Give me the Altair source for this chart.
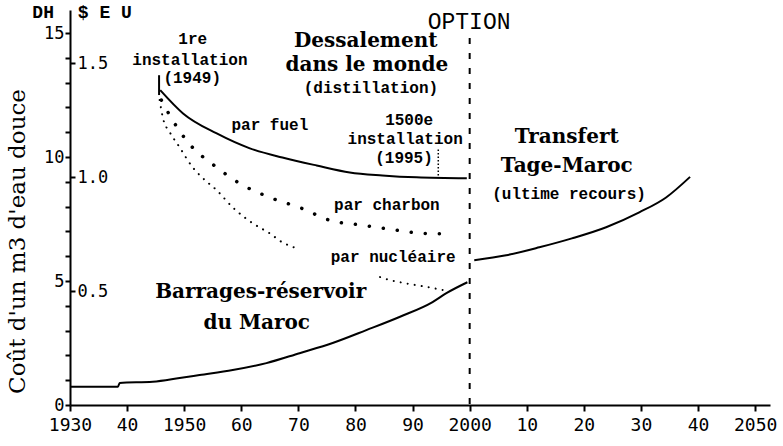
import altair as alt
import pandas as pd

# ---- curve readings: year and cost in DH per m3 ----
fuel_year = [1945.8, 1949.8, 1955.7, 1961.5, 1967.2, 1973.2, 1979.0, 1984.7, 1990.7, 1999.5]
fuel_dh = [12.7, 11.76, 10.95, 10.35, 9.98, 9.66, 9.38, 9.26, 9.18, 9.14]

coal_year = [1946.0, 1947.5, 1950.4, 1955.7, 1959.7, 1965.0, 1970.6, 1975.5, 1981.2, 1987.2, 1991.7, 1996.0]
coal_dh = [12.3, 11.67, 10.67, 9.58, 8.94, 8.37, 7.93, 7.45, 7.25, 7.05, 6.92, 6.9]

nuclear_year_a = [1945.7, 1946.3, 1947.5, 1949.2, 1951.5, 1953.3, 1955.7, 1958.5, 1962.0, 1965.0, 1967.2, 1969.7]
nuclear_dh_a = [12.3, 11.55, 10.99, 10.39, 9.58, 9.14, 8.66, 7.97, 7.33, 6.92, 6.56, 6.32]
nuclear_year_b = [1984.3, 1986.0, 1989.0, 1992.5, 1995.3]
nuclear_dh_b = [5.16, 5.04, 4.9, 4.76, 4.64]

dams_year = [1930, 1938.4, 1938.7, 1944.5, 1949.2, 1952.7, 1958.5, 1964.4, 1970.2, 1976.0, 1981.9, 1987.7, 1993.5, 1996.0, 1999.6]
dams_dh = [0.74, 0.74, 0.89, 0.94, 1.09, 1.21, 1.41, 1.69, 2.09, 2.50, 3.02, 3.55, 4.15, 4.52, 4.95]

transfer_year = [2000.8, 2006.4, 2012.2, 2017.9, 2023.9, 2029.7, 2034.4, 2038.6]
transfer_dh = [5.84, 6.04, 6.36, 6.72, 7.17, 7.77, 8.37, 9.2]

# ---- axes ----
x_tick_values = [1930, 1940, 1950, 1960, 1970, 1980, 1990, 2000, 2010, 2020, 2030, 2040, 2050]
x_tick_labels = ["1930", "40", "1950", "60", "70", "80", "90", "2000", "10", "20", "30", "40", "2050"]
dh_tick_values = list(range(0, 16))
usd_tick_values = [0.5, 1.0, 1.5]
usd_tick_labels = ["0.5", "1.0", "1.5"]

DH_PER_USD = 9.19
X_DOMAIN = [1930, 2052.6]
DH_DOMAIN = [0, 15.93]
USD_DOMAIN = [0, DH_DOMAIN[1] / DH_PER_USD]

# ---- annotations: text, year, cost ----
plain_text = ["1re", "installation", "(1949)", "(distillation)", "par fuel", "1500e",
              "installation", "(1995)", "par charbon", "par nucléaire", "(ultime recours)"]
plain_year = [1951.5, 1951.0, 1951.4, 1982.7, 1965.0, 1989.4, 1988.7, 1988.5, 1985.5, 1986.6, 2017.4]
plain_dh = [14.76, 13.9, 13.19, 12.78, 11.29, 11.49, 10.73, 9.96, 8.06, 5.97, 8.5]

bold_text = ["Dessalement", "dans le monde", "Barrages-réservoir", "du Maroc", "Transfert", "Tage-Maroc"]
bold_year = [1981.8, 1982.0, 1963.4, 1962.7, 2017.0, 2017.0]
bold_dh = [14.68, 13.72, 4.56, 3.31, 10.8, 9.64]

head_text = ["DH", "$ E U"]
head_year = [1925.3, 1936.1]
head_dh = [15.8, 15.8]

option_text = ["OPTION"]
option_year = [1999.9]
option_dh = [15.44]

# vertical markers: year, top, bottom
first_plant = [1945.6, 13.3, 12.5]
plant_1500 = [1994.5, 10.3, 9.2]
option_line = [2000, 14.8, 0]

W, H = 700, 395
TICK_FONT = "DejaVu Sans Mono"


def label_expr(values, labels):
    expr = "''"
    for v, l in reversed(list(zip(values, labels))):
        expr = f"datum.value == {v} ? '{l}' : ({expr})"
    return expr


xs = alt.Scale(domain=X_DOMAIN, nice=False, zero=False)
ys = alt.Scale(domain=DH_DOMAIN, nice=False, zero=False)

x_axis = alt.Axis(
    values=x_tick_values, labelExpr=label_expr(x_tick_values, x_tick_labels),
    grid=False, domainColor="black", domainWidth=2, tickColor="black", tickWidth=2,
    tickSize=6, labelFont=TICK_FONT, labelFontSize=18, labelColor="black",
    labelPadding=5, title=None, labelFlush=False, labelOverlap=False,
)
y_axis = alt.Axis(
    values=dh_tick_values, labelExpr="datum.value % 5 == 0 ? datum.value : ''",
    grid=False, domainColor="black", domainWidth=2, tickColor="black", tickWidth=2,
    tickSize=5, labelFont=TICK_FONT, labelFontSize=17, labelColor="black",
    labelPadding=1, labelOverlap=False, labelFlush=False,
    title="Coût d'un m3 d'eau douce", titleFont="DejaVu Serif", titleFontSize=23,
    titleFontWeight="normal", titleColor="black", titleAngle=270,
    titleX=-53, titleY=231, titleAlign="center", titleBaseline="middle",
)


def xy(yfield="dh"):
    return dict(
        x=alt.X("year:Q", scale=xs, axis=x_axis),
        y=alt.Y(f"{yfield}:Q", scale=ys, axis=y_axis),
    )


def curve(years, values, seg=0):
    return pd.DataFrame({"year": years, "dh": values, "seg": seg})


def line_layer(df, **mark):
    return alt.Chart(df).mark_line(interpolate="monotone", color="black", **mark).encode(
        detail="seg:N", **xy()
    )


fuel = line_layer(curve(fuel_year, fuel_dh), strokeWidth=2)
coal = line_layer(curve(coal_year, coal_dh), strokeWidth=3.5, strokeDash=[0.1, 14], strokeCap="round")
nuclear = line_layer(
    pd.concat([curve(nuclear_year_a, nuclear_dh_a, 0), curve(nuclear_year_b, nuclear_dh_b, 1)]),
    strokeWidth=2, strokeDash=[0.1, 7], strokeCap="round",
)
dams = line_layer(curve(dams_year, dams_dh), strokeWidth=2)
transfer = line_layer(curve(transfer_year, transfer_dh), strokeWidth=2)


def vrule(spec, **mark):
    df = pd.DataFrame({"year": [spec[0]], "dh": [spec[1]], "bottom": [spec[2]]})
    return alt.Chart(df).mark_rule(color="black", **mark).encode(y2="bottom:Q", **xy())


option_rule = vrule(option_line, strokeWidth=2, strokeDash=[6, 9])
first_rule = vrule(first_plant, strokeWidth=2)
rule_1500 = vrule(plant_1500, strokeWidth=1.5, strokeDash=[1.5, 2])


def text_layer(texts, years, values, **mark):
    df = pd.DataFrame({"t": texts, "year": years, "dh": values})
    return alt.Chart(df).mark_text(color="black", align="center", baseline="middle", **mark).encode(
        text="t:N", **xy()
    )


plain = text_layer(plain_text, plain_year, plain_dh, font="Liberation Mono", fontSize=16, fontWeight="bold")
bold = text_layer(bold_text, bold_year, bold_dh, font="DejaVu Serif", fontSize=20, fontWeight="bold")
heads = text_layer(head_text, head_year, head_dh, font="Liberation Mono", fontSize=18, fontWeight="bold")
option_label = text_layer(option_text, option_year, option_dh, font="Liberation Mono", fontSize=23)

dh_part = alt.layer(
    dams, fuel, coal, nuclear, transfer,
    option_rule, first_rule, rule_1500, plain, bold, heads, option_label,
)

# second scale in US dollars drawn on the same vertical line
usd_df = pd.DataFrame({"usd": [0.0]})
usd_part = alt.Chart(usd_df).mark_point(opacity=0).encode(
    y=alt.Y(
        "usd:Q",
        scale=alt.Scale(domain=USD_DOMAIN, nice=False, zero=False),
        axis=alt.Axis(
            orient="right", offset=-W, values=usd_tick_values,
            labelExpr=label_expr(usd_tick_values, usd_tick_labels),
            domain=False, grid=False, tickColor="black", tickWidth=2, tickSize=5,
            labelFont=TICK_FONT, labelFontSize=17, labelColor="black", labelPadding=2,
            labelOverlap=False, labelFlush=False, title=None,
        ),
    )
)

chart = (
    alt.layer(dh_part, usd_part)
    .resolve_scale(y="independent")
    .properties(
        width=W, height=H,
        autosize=alt.AutoSizeParams(type="none"),
        padding={"left": 70, "top": 10, "right": 13, "bottom": 41},
        background="white",
    )
    .configure_view(stroke=None)
)

chart.save("out.html", embed_options={"renderer": "svg", "actions": False})
